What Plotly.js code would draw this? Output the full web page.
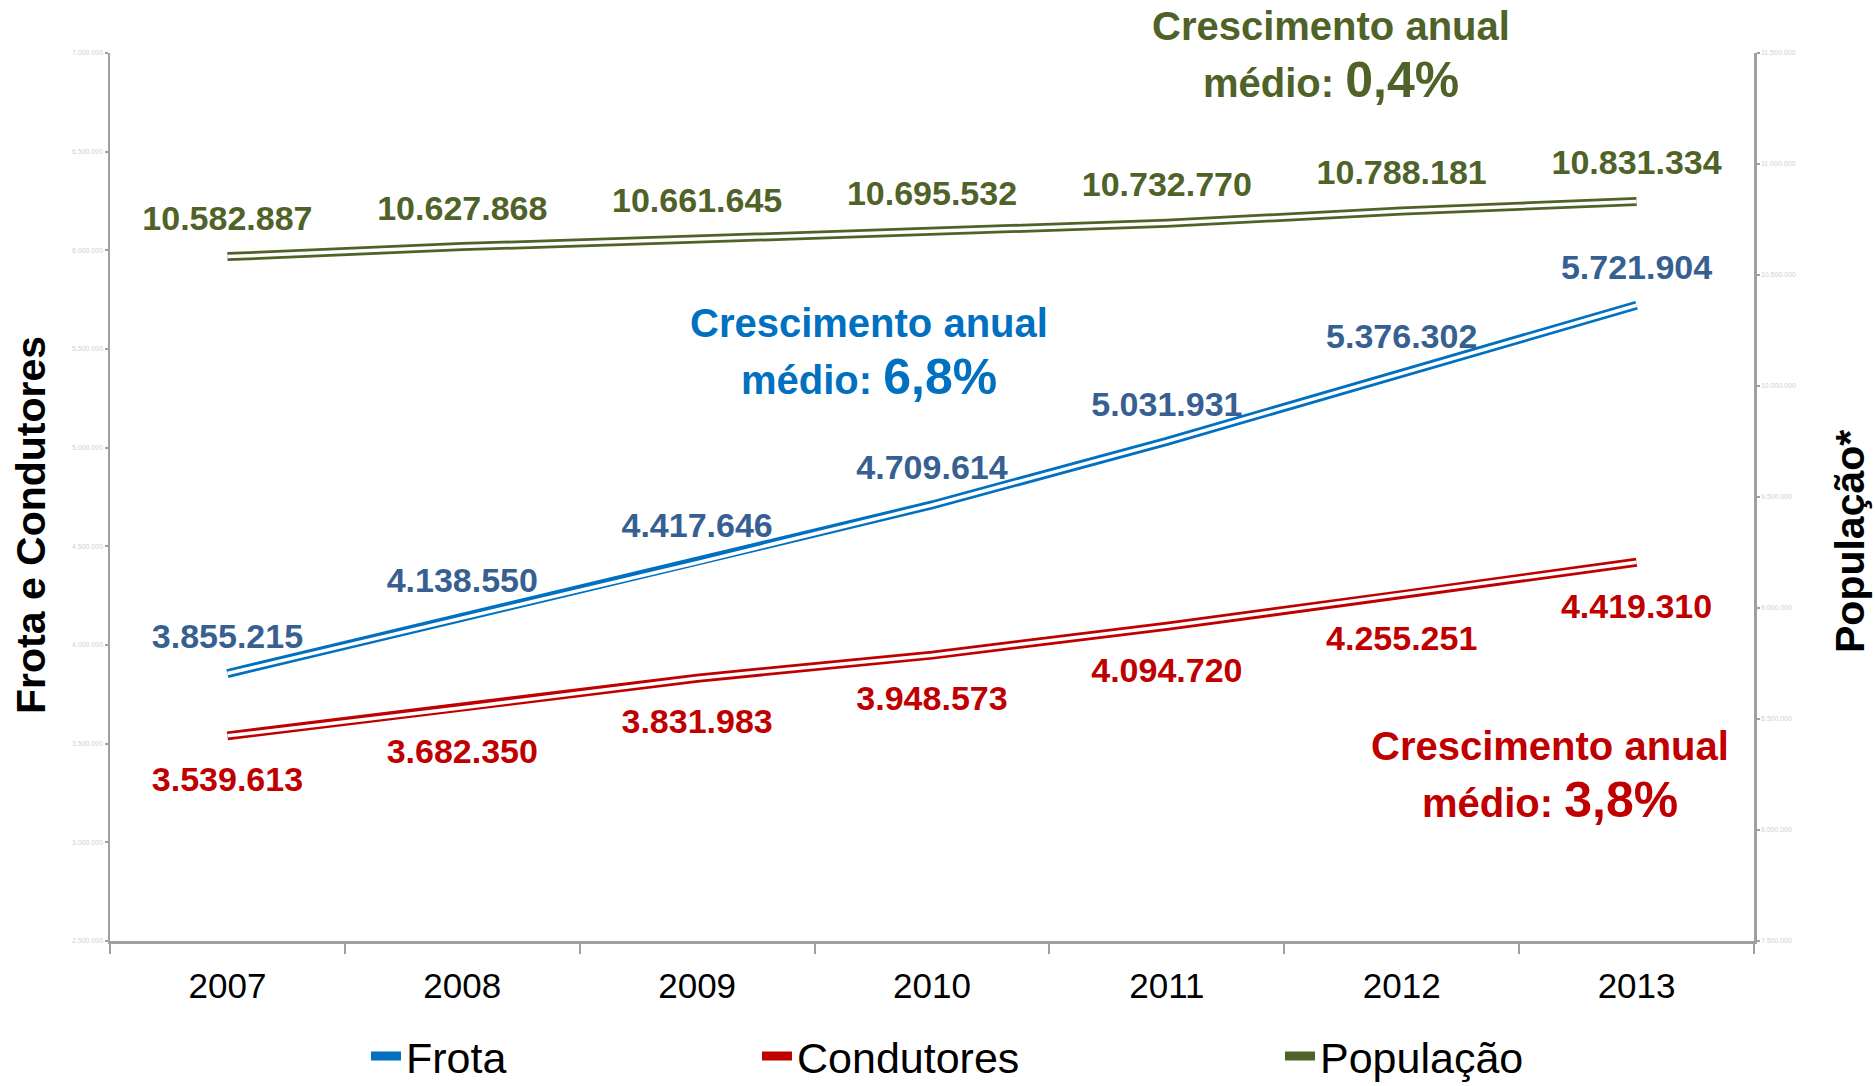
<!DOCTYPE html>
<html>
<head>
<meta charset="utf-8">
<script src="https://cdn.plot.ly/plotly-3.0.1.min.js"></script>
<style>html,body{margin:0;padding:0;background:#fff;}#chart{width:1875px;height:1086px;}</style>
</head>
<body>
<div id="chart"></div>
<script>
const years = ['2007', '2008', '2009', '2010', '2011', '2012', '2013'];
const frota = [3855215, 4138550, 4417646, 4709614, 5031931, 5376302, 5721904];
const condutores = [3539613, 3682350, 3831983, 3948573, 4094720, 4255251, 4419310];
const populacao = [10582887, 10627868, 10661645, 10695532, 10732770, 10788181, 10831334];

const seriesNames = ['Frota', 'Condutores', 'População'];
const growthText = ['6,8%', '3,8%', '0,4%'];
const axisTitles = ['Frota e Condutores', 'População*'];

const FONT = '"Liberation Sans", Arial, sans-serif';
const BLUE = '#0070C0', BLUE_LBL = '#376092', RED = '#C00000', OLIVE = '#4F6228';

function fmt(n) { return String(n).replace(/\B(?=(\d{3})+(?!\d))/g, '.'); }

// plot area in pixels: x 110..1754, y 53..941
const L = 110, R = 1754, T = 53, B = 941;
function px(x) { return (x - L) / (R - L); }
function py(y) { return (B - y) / (B - T); }

function lineTraces(y, name, color, axis, legend) {
  return [
    {x: years, y: y, name: name, mode: 'lines', yaxis: axis, legend: legend,
     line: {color: color, width: 9}, hoverinfo: 'skip'},
    {x: years, y: y, mode: 'lines', yaxis: axis, showlegend: false,
     line: {color: '#ffffff', width: 3.5}, hoverinfo: 'skip'}
  ];
}
function labelTrace(y, color, axis, pos, msize) {
  return {x: years, y: y, mode: 'markers+text', yaxis: axis, showlegend: false,
    marker: {size: msize, opacity: 0}, text: y.map(fmt), textposition: pos,
    textfont: {family: FONT, size: 34, color: color, weight: 'bold'}, hoverinfo: 'skip'};
}

const data = [].concat(
  lineTraces(frota, seriesNames[0], BLUE, 'y', 'legend'),
  lineTraces(condutores, seriesNames[1], RED, 'y', 'legend2'),
  lineTraces(populacao, seriesNames[2], OLIVE, 'y2', 'legend3'),
  [labelTrace(frota, BLUE_LBL, 'y', 'top center', 26),
   labelTrace(condutores, RED, 'y', 'bottom center', 46),
   labelTrace(populacao, OLIVE, 'y2', 'top center', 28)]
);

function growth(xp, y1, y2, color, pct) {
  return [
    {xref: 'paper', yref: 'paper', x: px(xp), y: py(y1), xanchor: 'center', yanchor: 'middle',
     showarrow: false, text: '<b>Crescimento anual</b>', font: {family: FONT, size: 40, color: color}},
    {xref: 'paper', yref: 'paper', x: px(xp), y: py(y2), xanchor: 'center', yanchor: 'middle',
     showarrow: false, text: '<b>médio: <span style="font-size:50px">' + pct + '</span></b>',
     font: {family: FONT, size: 40, color: color}}
  ];
}
function axisTitle(xp, yp, text) {
  return {xref: 'paper', yref: 'paper', x: px(xp), y: py(yp), xanchor: 'center', yanchor: 'middle',
    showarrow: false, textangle: -90, text: '<b>' + text + '</b>',
    font: {family: FONT, size: 41, color: '#000'}};
}

const legendBase = {orientation: 'h', yanchor: 'middle', xanchor: 'left', y: py(1056),
  font: {family: FONT, size: 43, color: '#000'}, bgcolor: 'rgba(0,0,0,0)'};

const axisCommon = {showline: true, linecolor: '#A0A0A0', linewidth: 2.5, showgrid: false,
  zeroline: false, ticks: 'outside', ticklen: 3, tickcolor: '#A0A0A0', tickwidth: 2,
  tickformat: ',.0f', dtick: 500000, tickfont: {family: FONT, size: 7, color: '#D0D0D0'}};

const layout = {
  width: 1875, height: 1086,
  margin: {l: L, r: 1875 - R, t: T, b: 1086 - B, autoexpand: false},
  paper_bgcolor: '#fff', plot_bgcolor: '#fff',
  separators: ',.',
  font: {family: FONT},
  showlegend: true,
  xaxis: {type: 'category', range: [-0.5, 6.5], showline: true, linecolor: '#A0A0A0', linewidth: 2.5,
    showgrid: false, zeroline: false, ticks: 'outside', tickson: 'boundaries', ticklen: 10,
    tickcolor: '#A0A0A0', tickwidth: 2, tickfont: {family: FONT, size: 35, color: '#000'},
    ticklabelstandoff: 12, automargin: false},
  yaxis: Object.assign({}, axisCommon, {range: [2500000, 7000000], automargin: false}),
  yaxis2: Object.assign({}, axisCommon, {range: [7500000, 11500000], overlaying: 'y', side: 'right', automargin: false}),
  legend: Object.assign({}, legendBase, {x: px(366)}),
  legend2: Object.assign({}, legendBase, {x: px(757)}),
  legend3: Object.assign({}, legendBase, {x: px(1280)}),
  annotations: [].concat(
    growth(1331, 26, 80, OLIVE, growthText[2]),
    growth(869, 323, 377, BLUE, growthText[0]),
    growth(1550, 746, 800, RED, growthText[1]),
    [axisTitle(31, 525, axisTitles[0]), axisTitle(1850, 541, axisTitles[1])]
  )
};

Plotly.newPlot('chart', data, layout, {displayModeBar: false, staticPlot: true});
</script>
</body>
</html>
